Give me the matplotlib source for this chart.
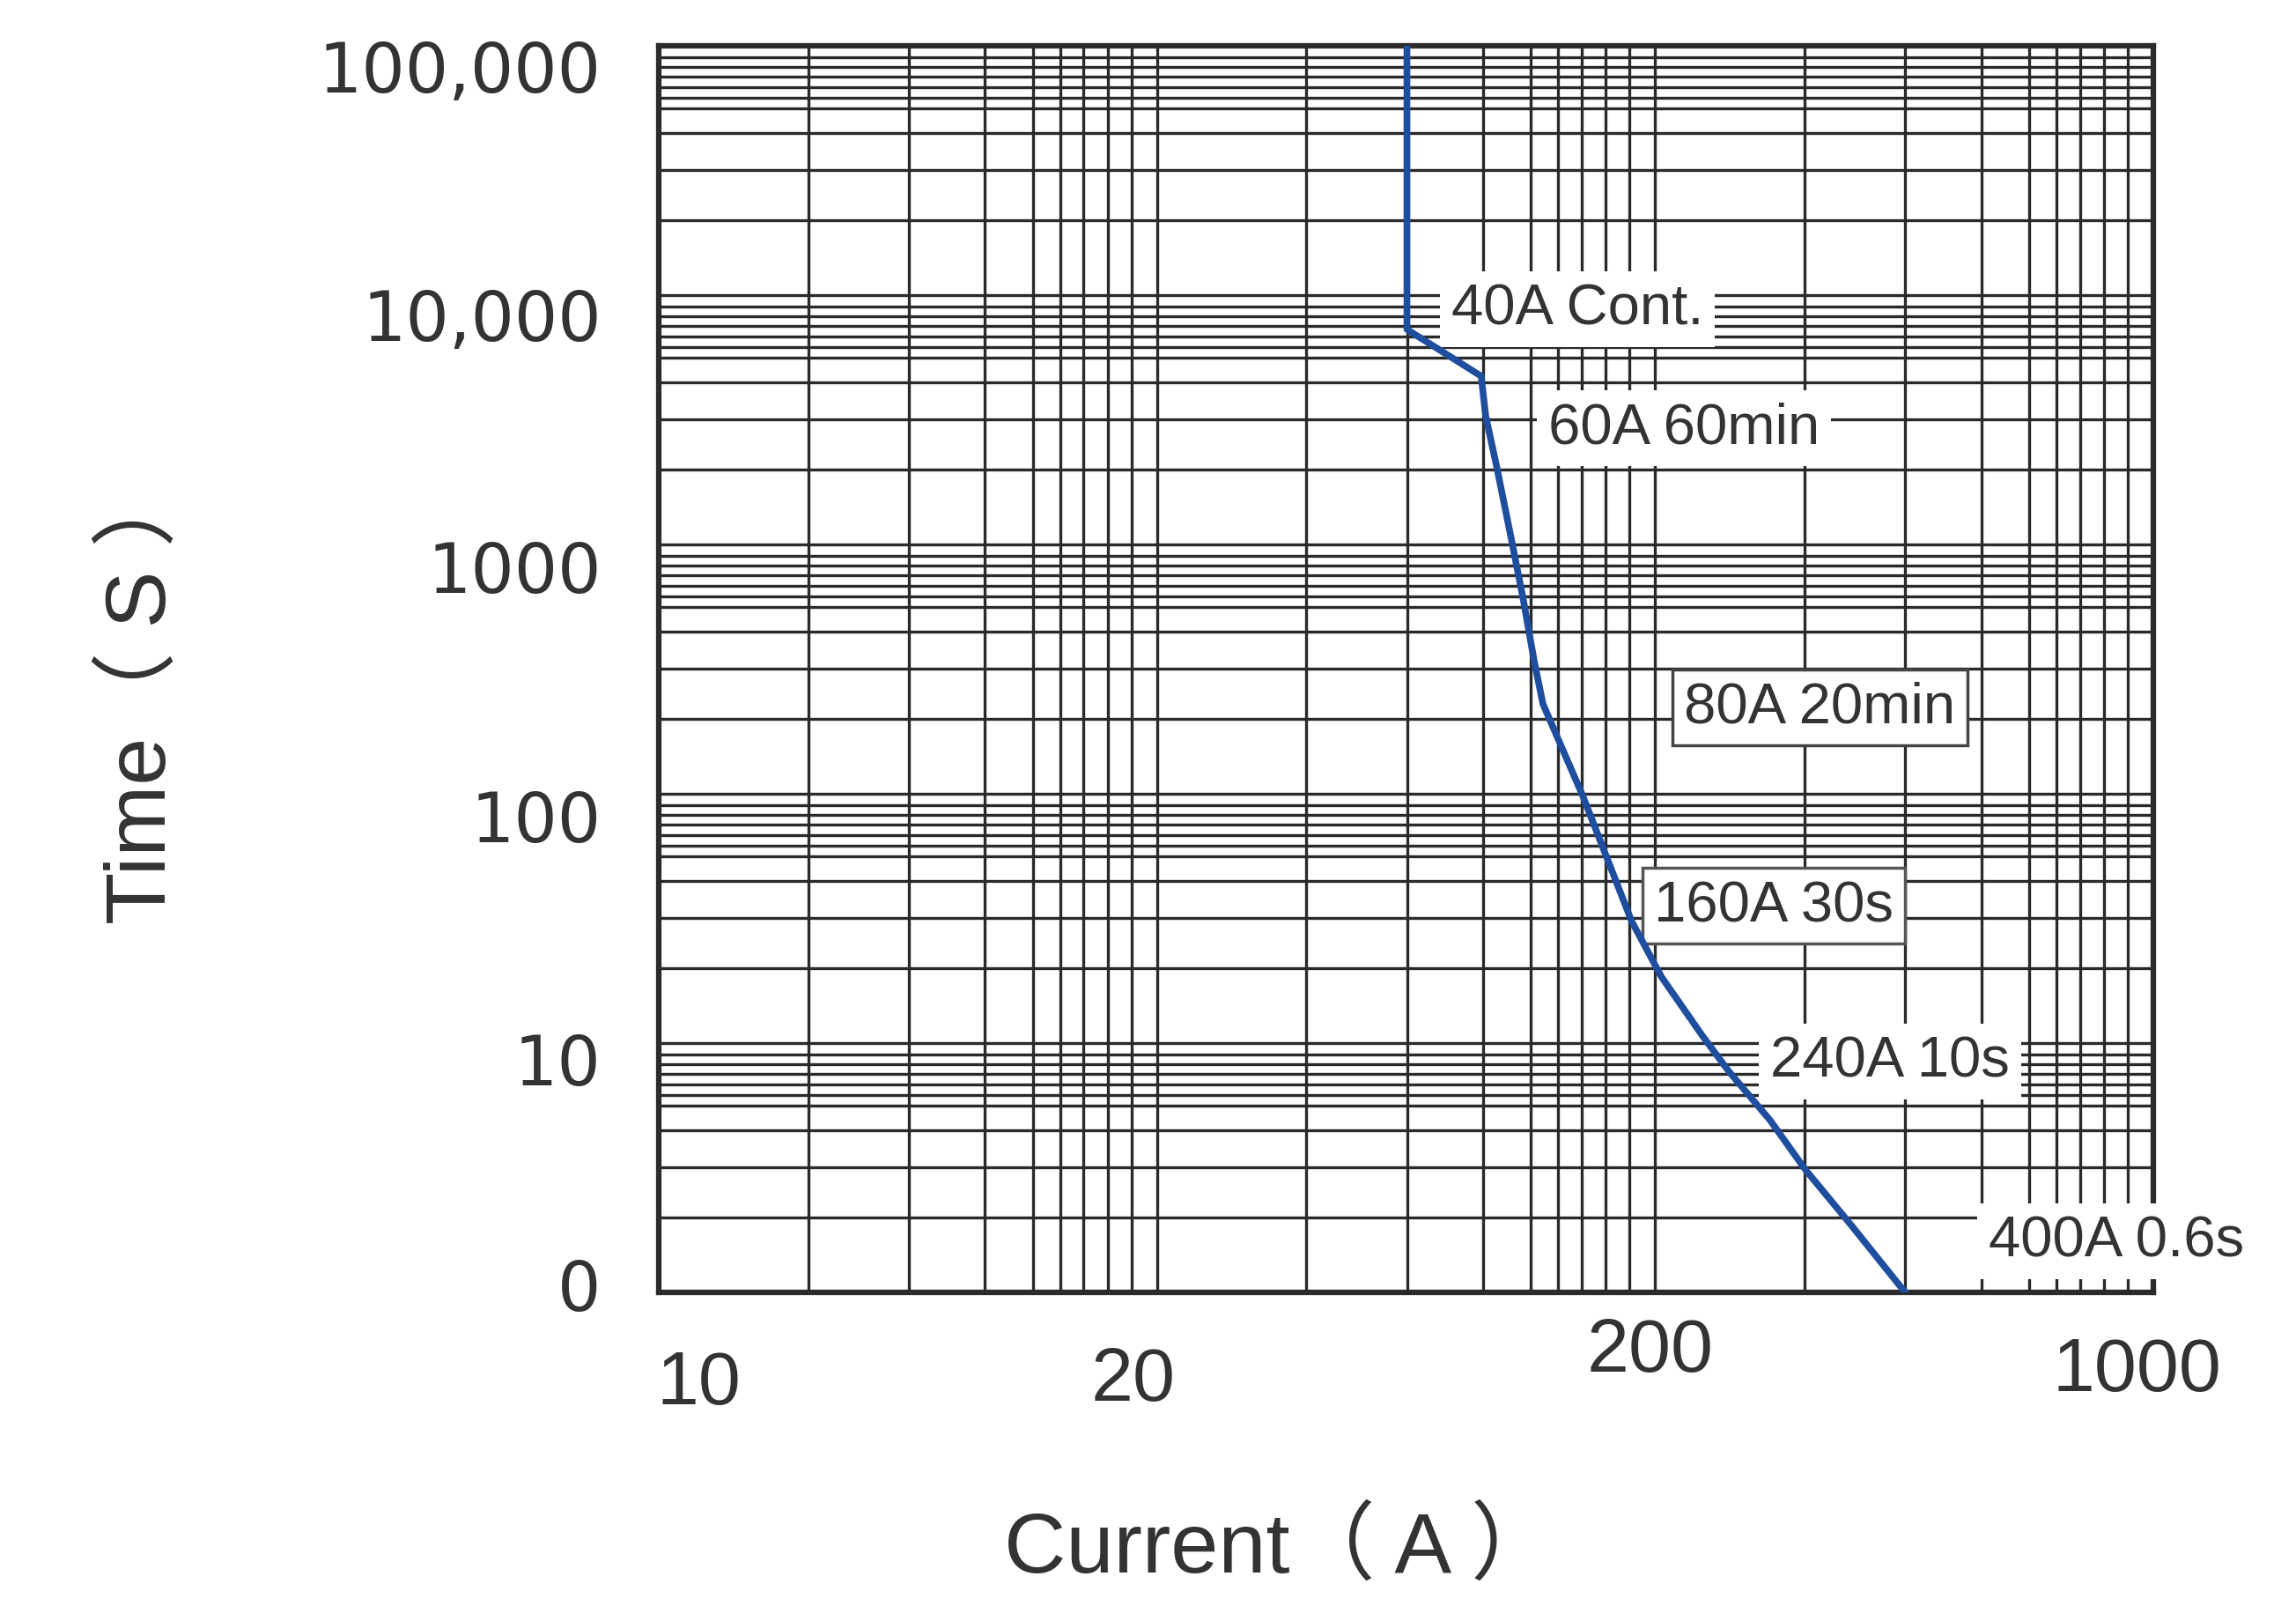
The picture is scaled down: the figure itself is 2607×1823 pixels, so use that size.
import matplotlib.pyplot as plt
from matplotlib.ticker import NullLocator
from matplotlib.transforms import ScaledTranslation

plt.rcParams['font.family'] = ['Liberation Sans', 'Noto Sans CJK SC']

# grid lines inside one decade (fraction of the decade), as printed on the sheet
x_minor = [0.300, 0.502, 0.655, 0.751, 0.806, 0.853, 0.901, 0.949]
y_minor = [0.30, 0.50, 0.65, 0.75, 0.79, 0.835, 0.875, 0.915, 0.955]

# trip curve: x = position on the current grid (decades), y = time in seconds
curve_x = [1.502, 1.502, 1.651, 1.660, 1.683, 1.713, 1.736, 1.757, 1.775, 1.854,
           1.907, 1.953, 2.013, 2.095, 2.148, 2.231, 2.302, 2.390, 2.502]
curve_t = [100000, 7280, 4730, 3280, 2010, 1016, 594, 344, 229, 99,
           53, 30.8, 18.4, 10.7, 7.7, 4.9, 3.1, 1.9, 1.0]

xtick_pos = [0.081, 0.953, 1.990, 2.968]
xtick_labels = ['10', '20', '200', '1000']
ytick_vals = [1, 10, 100, 1000, 10000, 100000]
ytick_labels = ['0', '10', '100', '1000', '10,000', '100,000']

notes = ['40A Cont.', '60A 60min', '80A 20min', '160A 30s', '240A 10s', '400A 0.6s']

# label placement (axes fraction) and box style
note_xy = [(0.6146, 0.7887), (0.6859, 0.6933), (0.7770, 0.4693),
           (0.7460, 0.3102), (0.8238, 0.1852), (0.8898, 0.0410)]
note_ha = ['center', 'center', 'center', 'center', 'center', 'left']
note_edge = ['none', 'none', '#444444', '#555555', 'none', 'none']

# tick label jitter seen in the original (pixels, downwards)
x_drop = [104, 100, 67, 89]
y_drop = [-10, 17, 24, 24, 21, 22]

ink = '#333333'

fig = plt.figure(figsize=(26.07, 18.24), dpi=100)
ax = fig.add_axes([0.2869, 0.1952, 0.6509, 0.7758])
ax.set_yscale('log')
ax.set_xlim(0, 3)
ax.set_ylim(1, 1e5)

# grid
xs = [d + f for d in range(3) for f in [0] + x_minor][1:]
ys = [10 ** (k + f) for k in range(5) for f in [0] + y_minor][1:]
ax.vlines(xs, 1, 1e5, colors='#2a2a2a', linewidth=2.4, zorder=1)
ax.hlines(ys, 0, 3, colors='#2a2a2a', linewidth=2.4, zorder=1)

for s in ax.spines.values():
    s.set_linewidth(4.5)
    s.set_color('#2b2b2b')

# curve
ax.plot(curve_x, curve_t, color='#1f4e9e', linewidth=5.5, zorder=8,
        solid_joinstyle='round')

# notes
for txt, (x, y), ha, ec in zip(notes, note_xy, note_ha, note_edge):
    ax.text(x, y, txt, transform=ax.transAxes, ha=ha, va='center',
            fontsize=47, color=ink, zorder=6, clip_on=False,
            bbox=dict(boxstyle='square,pad=0.2', facecolor='white',
                      edgecolor=ec, linewidth=2.5))

# x ticks
ax.set_xticks(xtick_pos, xtick_labels)
ax.tick_params(axis='x', length=0, pad=0, labelsize=62, labelcolor=ink)
for lab, dy in zip(ax.get_xticklabels(), x_drop):
    lab.set_va('center')
    lab.set_transform(lab.get_transform() +
                      ScaledTranslation(0, -dy / 100, fig.dpi_scale_trans))

# y ticks
ax.set_yticks(ytick_vals, ytick_labels)
ax.yaxis.set_minor_locator(NullLocator())
ax.tick_params(axis='y', which='both', length=0, pad=47, labelsize=56,
               labelcolor=ink)
for lab, dy in zip(ax.get_yticklabels(), y_drop):
    lab.set_fontfamily('DejaVu Sans')
    lab.set_transform(lab.get_transform() +
                      ScaledTranslation(0, -dy / 100, fig.dpi_scale_trans))

# axis titles
fig.text(0.0618, 0.569, 'Time（ S ）', rotation=90, ha='center', va='center',
         fontsize=70, color=ink)
fig.text(0.5577, 0.0362, 'Current（ A ）', ha='center', va='center',
         fontsize=70, color=ink)

fig.savefig('out.png', dpi=100)
